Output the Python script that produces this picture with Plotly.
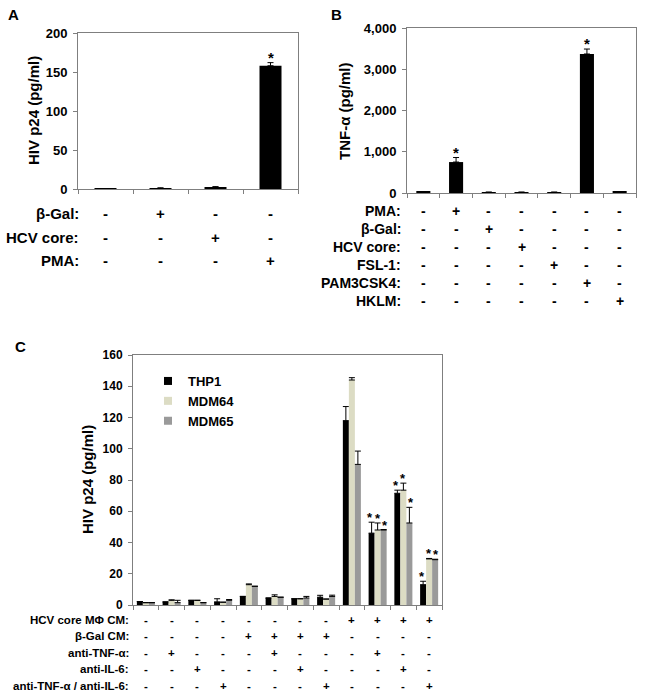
import plotly.graph_objects as go

W, H = 645, 697
FAM = "Liberation Sans, Arial, sans-serif"

def F(size, color="black", weight="bold"):
    return dict(family=FAM, size=size, color=color, weight=weight)

# ---------------- Panel A data ----------------
a_cats = ["a1", "a2", "a3", "a4"]
a_vals = [0.3, 1.0, 2.5, 158]
a_err = [0, 0.5, 0.5, 4]
a_star = [False, False, False, True]
a_rows = ["β-Gal:", "HCV core:", "PMA:"]
a_cond = [
    ["-", "+", "-", "-"],
    ["-", "-", "+", "-"],
    ["-", "-", "-", "+"],
]
a_ticks = [0, 50, 100, 150, 200]

# ---------------- Panel B data ----------------
b_cats = ["b1", "b2", "b3", "b4", "b5", "b6", "b7"]
b_vals = [25, 750, 20, 20, 20, 3370, 25]
b_err = [0, 110, 0, 0, 0, 120, 0]
b_star = [False, True, False, False, False, True, False]
b_rows = ["PMA:", "β-Gal:", "HCV core:", "FSL-1:", "PAM3CSK4:", "HKLM:"]
b_cond = [
    ["-", "+", "-", "-", "-", "-", "-"],
    ["-", "-", "+", "-", "-", "-", "-"],
    ["-", "-", "-", "+", "-", "-", "-"],
    ["-", "-", "-", "-", "+", "-", "-"],
    ["-", "-", "-", "-", "-", "+", "-"],
    ["-", "-", "-", "-", "-", "-", "+"],
]
b_ticks = [0, 1000, 2000, 3000, 4000]

# ---------------- Panel C data ----------------
c_cats = ["c%d" % i for i in range(1, 13)]
c_series = ["THP1", "MDM64", "MDM65"]
c_colors = ["#000000", "#dcdcc4", "#9a9a9a"]
thp1 = [2.2, 2.0, 3.0, 2.0, 5.5, 4.5, 4.0, 5.0, 118, 46, 71.5, 13]
thp1_err = [0, 0, 0, 2.0, 0, 0, 0, 1.2, 9, 7, 2, 2.2]
mdm64 = [1.5, 3.0, 3.0, 1.8, 13, 5.5, 4.0, 3.8, 144, 48, 73.5, 29.5]
mdm64_err = [0, 0.3, 0, 0, 0.5, 1.0, 0, 0, 1.5, 4.5, 4.5, 0.3]
mdm65 = [1.5, 1.5, 1.5, 3.0, 12, 5.0, 4.5, 5.5, 90, 48, 52.5, 29]
mdm65_err = [0, 1.5, 0, 0.5, 0, 0, 1.0, 0.8, 8.5, 0.3, 10, 0.3]
thp1_star = [False] * 9 + [True, True, True]
mdm64_star = [False] * 9 + [True, True, True]
mdm65_star = [False] * 9 + [True, True, True]
c_rows = ["HCV core MΦ CM:", "β-Gal CM:", "anti-TNF-α:", "anti-IL-6:",
          "anti-TNF-α / anti-IL-6:"]
c_cond = [
    ["-", "-", "-", "-", "-", "-", "-", "-", "+", "+", "+", "+"],
    ["-", "-", "-", "-", "+", "+", "+", "+", "-", "-", "-", "-"],
    ["-", "+", "-", "-", "-", "+", "-", "-", "-", "+", "-", "-"],
    ["-", "-", "+", "-", "-", "-", "+", "-", "-", "-", "+", "-"],
    ["-", "-", "-", "+", "-", "-", "-", "+", "-", "-", "-", "+"],
]
c_ticks = [0, 20, 40, 60, 80, 100, 120, 140, 160]

# ---------------- layout geometry (pixels) ----------------
def px_x(x):
    return x / W

def px_y(y):
    return 1 - y / H

A_box = (78, 298, 33, 189)
B_box = (407, 636, 28, 193)
C_box = (133, 442, 355, 605)

fig = go.Figure()

def err(arr):
    return dict(type="data", symmetric=False, array=arr, arrayminus=[0] * len(arr),
                color="black", thickness=1, width=3, visible=True)

fig.add_trace(go.Bar(x=a_cats, y=a_vals, marker=dict(color="black", line=dict(width=0)),
                     error_y=err(a_err), xaxis="x", yaxis="y", showlegend=False,
                     width=0.4))
fig.add_trace(go.Bar(x=b_cats, y=b_vals, marker=dict(color="black", line=dict(width=0)),
                     error_y=err(b_err), xaxis="x2", yaxis="y2", showlegend=False,
                     width=0.43))

c_data = [(thp1, thp1_err), (mdm64, mdm64_err), (mdm65, mdm65_err)]
for name, col, (v, e) in zip(c_series, c_colors, c_data):
    fig.add_trace(go.Bar(x=c_cats, y=v, name=name,
                         marker=dict(color=col, line=dict(width=0)),
                         error_y=err(e), xaxis="x3", yaxis="y3", showlegend=False,
                         offsetgroup=name))
# legend entries with small square symbols
for name, col in zip(c_series, c_colors):
    fig.add_trace(go.Scatter(x=[None], y=[None], mode="markers", name=name,
                             marker=dict(symbol="square", size=8, color=col),
                             xaxis="x3", yaxis="y3", showlegend=True))

AX_LINE = "#7f7f7f"

def xax(box):
    return dict(domain=[px_x(box[0]), px_x(box[1])], type="category",
                showticklabels=False, ticks="outside", tickson="boundaries",
                ticklen=4, tickcolor=AX_LINE, showline=True, linecolor=AX_LINE,
                linewidth=1, mirror=True, showgrid=False, zeroline=False,
                fixedrange=True)

def yax(box, ticks, fmt, fsize):
    return dict(domain=[px_y(box[3]), px_y(box[2])], range=[ticks[0], ticks[-1]],
                tickvals=ticks, tickformat=fmt, ticks="outside", ticklen=4,
                tickcolor=AX_LINE, showline=True, linecolor=AX_LINE, linewidth=1,
                mirror=True, showgrid=False, zeroline=False, tickfont=F(fsize),
                ticklabelstandoff=3)

fig.update_layout(
    width=W, height=H,
    margin=dict(l=0, r=0, t=0, b=0, autoexpand=False),
    paper_bgcolor="white", plot_bgcolor="white",
    barmode="group", bargap=0.3, bargroupgap=0,
    xaxis=dict(xax(A_box), anchor="y"),
    yaxis=dict(yax(A_box, a_ticks, "d", 13), anchor="x"),
    xaxis2=dict(xax(B_box), anchor="y2"),
    yaxis2=dict(yax(B_box, b_ticks, ",d", 13), anchor="x2"),
    xaxis3=dict(xax(C_box), anchor="y3"),
    yaxis3=dict(yax(C_box, c_ticks, "d", 12), anchor="x3"),
    legend=dict(x=px_x(148), y=px_y(366), xanchor="left", yanchor="top",
                font=F(13), bgcolor="rgba(0,0,0,0)", itemwidth=30,
                tracegroupgap=0),
    showlegend=True,
)

ann = []

def row_labels(rows, cond, cats, xref, label_right, ys, fsize):
    for r, (lab, yy) in enumerate(zip(rows, ys)):
        ann.append(dict(text=lab, x=px_x(label_right), y=px_y(yy), xref="paper",
                        yref="paper", xanchor="right", yanchor="middle",
                        showarrow=False, font=F(fsize)))
        for c, s in zip(cats, cond[r]):
            ann.append(dict(text=s, x=c, y=px_y(yy), xref=xref, yref="paper",
                            xanchor="center", yanchor="middle", showarrow=False,
                            font=F(fsize)))

row_labels(a_rows, a_cond, a_cats, "x", 81, [213, 237, 260], 15)
row_labels(b_rows, b_cond, b_cats, "x2", 403, [211, 229, 247, 265, 283, 301], 14)
row_labels(c_rows, c_cond, c_cats, "x3", 131, [620, 636, 653, 669, 686], 11.5)

def stars(cats, vals, errs, flags, xref, yref, xshift=0, size=15):
    for c, v, e, f in zip(cats, vals, errs, flags):
        if f:
            ann.append(dict(text="*", x=c, y=v + e, xref=xref, yref=yref,
                            xanchor="center", yanchor="bottom", showarrow=False,
                            xshift=xshift, yshift=-5, font=F(size)))

stars(a_cats, a_vals, a_err, a_star, "x", "y")
stars(b_cats, b_vals, b_err, b_star, "x2", "y2")
cw = (C_box[1] - C_box[0]) / len(c_cats)
bw = cw * (1 - 0.3) / 3
for i, ((v, e), fl) in enumerate(zip(c_data, [thp1_star, mdm64_star, mdm65_star])):
    stars(c_cats, v, e, fl, "x3", "y3", xshift=(i - 1) * (bw + 1.2), size=13)

# panel letters
for t, x, y in [("A", 13, 15), ("B", 337, 15), ("C", 20, 347)]:
    ann.append(dict(text=t, x=px_x(x), y=px_y(y), xref="paper", yref="paper",
                    xanchor="center", yanchor="middle", showarrow=False, font=F(15)))

# y-axis titles
for t, x, y, s in [("HIV p24 (pg/ml)", 34, 111, 15),
                   ("TNF-α (pg/ml)", 345, 111, 15),
                   ("HIV p24 (pg/ml)", 87, 480, 15)]:
    ann.append(dict(text=t, x=px_x(x), y=px_y(y), xref="paper", yref="paper",
                    xanchor="center", yanchor="middle", showarrow=False,
                    textangle=-90, font=F(s)))

fig.update_layout(annotations=ann)

fig.write_html(
    "out.html",
    config={"displayModeBar": False},
    post_script="document.body.style.margin='0';document.body.style.overflow='hidden';",
)
